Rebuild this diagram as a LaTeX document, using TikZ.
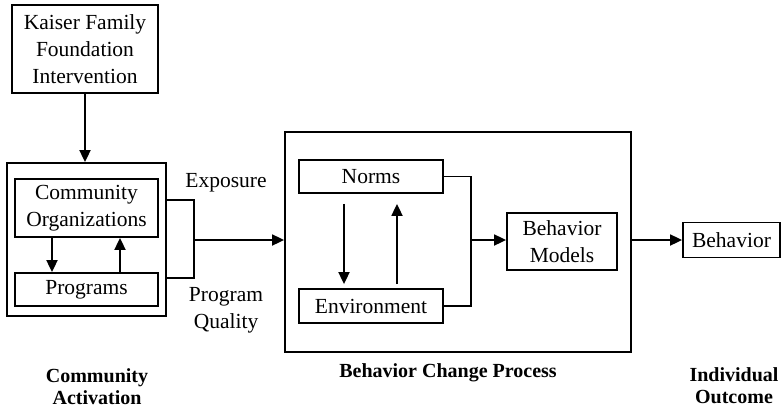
\documentclass[tikz,border=0pt]{standalone}
\usepackage{fontspec}
\setmainfont{Liberation Serif}
\usetikzlibrary{arrows.meta,calc}
\begin{document}
\begin{tikzpicture}[x=1pt,y=-1pt,
  box/.style={draw, line width=1.8pt, inner sep=0pt, align=center, font=\fontsize{21.5}{27}\selectfont},
  ln/.style={line width=1.8pt},
  arr/.style={line width=1.8pt, -{Triangle[length=12pt,width=11pt]}},
  txt/.style={align=center, font=\fontsize{21.5}{27}\selectfont},
  lbl/.style={align=center, font=\fontsize{20}{22}\selectfont\bfseries}]
\useasboundingbox (0,0) rectangle (782,410);
% community activation
\node[box, minimum width=146pt, minimum height=88pt] (kaiser) at (85,49) {Kaiser Family\\Foundation\\Intervention};
\node[box, minimum width=159pt, minimum height=153pt] (outer) at (86.5,239.5) {};
\node[box, minimum width=143pt, minimum height=58pt] (comm) at (86.5,208) {Community\\Organizations};
\node[box, minimum width=143pt, minimum height=33pt] (prog) at (86.5,289.5) {Programs};
% behavior change process
\node[box, minimum width=346pt, minimum height=220pt] (bcp) at (458,242) {};
\node[box, minimum width=144pt, minimum height=33pt] (norms) at (371,176.5) {Norms};
\node[box, minimum width=144pt, minimum height=34pt] (env) at (371,306) {Environment};
\node[box, minimum width=110pt, minimum height=57pt] (bm) at (562,241.5) {Behavior\\Models};
\node[box, minimum width=97pt, minimum height=35pt] (beh) at (731.5,240) {Behavior};
% labels
\node[txt] (expo) at (226,183) {Exposure};
\node[txt] (pq) at (226,310) {Program\\Quality};
\node[lbl] (ca) at (97,387) {Community\\Activation};
\node[lbl] (bcpl) at (448,373) {Behavior Change Process};
\node[lbl] (io) at (734,386) {Individual\\Outcome};
% helper coordinates
\coordinate (b1) at (194,200);
\coordinate (b2) at (194,278);
\coordinate (j1) at (194,240);
\coordinate (j2) at (471,240);
\coordinate (xa) at (52,0);
\coordinate (xb) at (120,0);
\coordinate (xc) at (344,0);
\coordinate (xd) at (397,0);
% connectors
\draw[arr] (kaiser.south) -- (kaiser.south |- outer.north);
\draw[arr] (comm.south -| xa) -- (prog.north -| xa);
\draw[arr] (prog.north -| xb) -- (comm.south -| xb);
\draw[ln] (outer.east |- b1) -- (b1) -- (b2) -- (outer.east |- b2);
\draw[arr] (j1) -- (bcp.west |- j1);
\draw[arr] ($(norms.south -| xc)+(0,10)$) -- ($(env.north -| xc)+(0,-4)$);
\draw[arr] ($(env.north -| xd)+(0,-4)$) -- ($(norms.south -| xd)+(0,10)$);
\draw[ln] (norms.east) -| (j2) |- (env.east);
\draw[arr] (j2) -- (bm.west |- j2);
\draw[arr] (bcp.east |- beh.west) -- (beh.west);
\end{tikzpicture}
\end{document}
